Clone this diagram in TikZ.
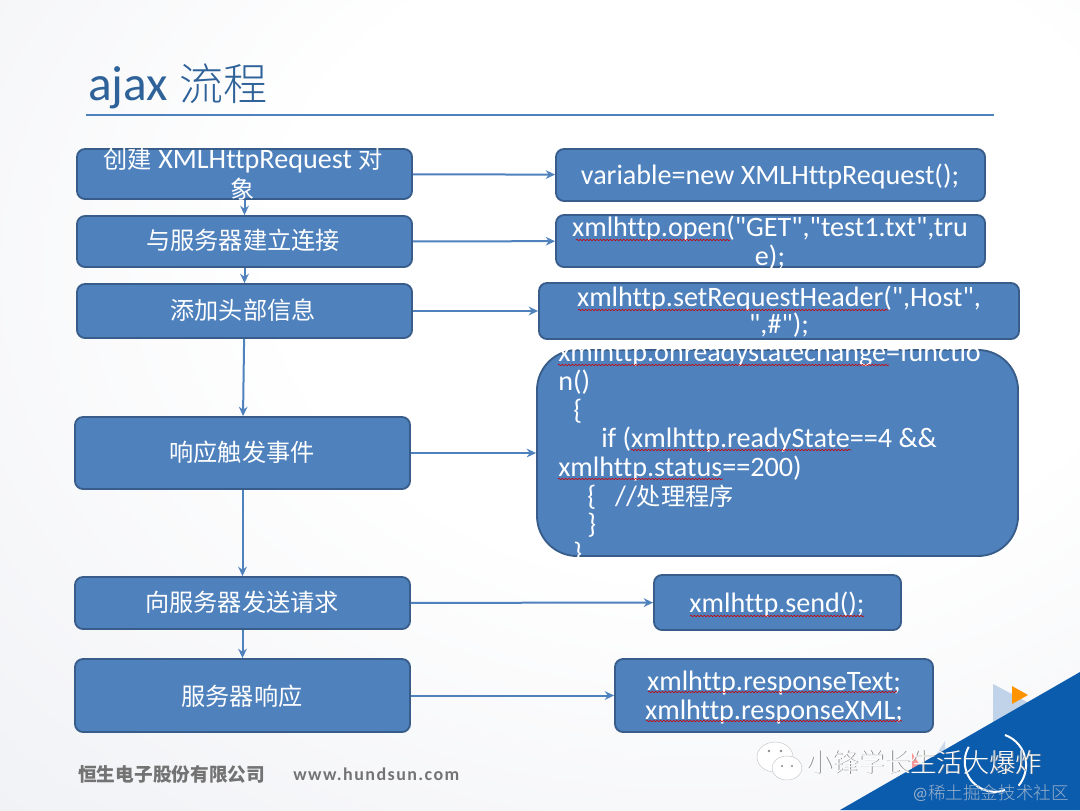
\documentclass[tikz,border=0pt]{standalone}
\usepackage{fontspec}
\setmainfont{Carlito}[Ligatures={TeXOff,NoCommon,NoContextual}]
\newfontfamily\cjk{Noto Sans CJK SC}[Scale=0.86]
\newfontfamily\cjkl{Noto Sans CJK SC Light}
\usetikzlibrary{arrows.meta,decorations.pathmorphing}
\definecolor{boxfill}{HTML}{4F81BD}
\definecolor{boxline}{HTML}{385D8A}
\definecolor{titleblue}{HTML}{2F6299}
\definecolor{cornerblue}{HTML}{0B5CAD}
\definecolor{bgA}{HTML}{F3F4F7}
\definecolor{bgB}{HTML}{E7EAF0}
\pgfdeclareradialshading{slidebg}{\pgfpoint{10bp}{12bp}}{color(0bp)=(white); color(20bp)=(white); color(40bp)=(bgA); color(62bp)=(bgB); color(100bp)=(bgB)}
\newcommand\bx[6][]{\node[boxnode,#1,minimum width={(#5-#3)*0.75pt},minimum height={(#6-#4)*0.75pt}] (#2) at ({(#3+#5)/2},{(#4+#6)/2}) {};}
\newcommand\tl[4]{\node[txtline] (#1) at (#2,#3) {#4};}
\newcommand\tll[4]{\node[txtline,anchor=base west] (#1) at (#2,#3) {#4};}
\newcommand\sq[3]{\draw[squig] (#1,#3) -- (#2,#3);}
\tikzset{
 boxnode/.style={draw=boxline,line width=1.4pt,fill=boxfill,rounded corners=6pt,inner sep=0pt},
 txtline/.style={text=white,anchor=base,inner sep=0pt,font=\fontsize{21.1}{24}\selectfont},
 conn/.style={draw=boxfill,line width=1.5pt,-{Stealth[length=7pt,width=6.5pt]}},
 squig/.style={draw=red!80!black,line width=0.45pt,decorate,decoration={snake,amplitude=0.5pt,segment length=2.5pt}}
}
\begin{document}
\begin{tikzpicture}[x=0.75pt,y=-0.75pt]
\useasboundingbox (0,0) rectangle (1080,810);
\shade[shading=slidebg] (0,0) rectangle (1080,810);
% decorations
\fill[boxfill!35!white] (993,684) -- (1031,704) -- (993,722) -- cycle;
\fill[orange!85!yellow] (1012,686) -- (1028,695) -- (1012,704) -- cycle;
\fill[boxfill!30!white] (945,741) -- (945,772) -- (925,772) -- cycle;
\fill[red!40!white] (912,753) -- (922,768) -- (912,773) -- cycle;
\fill[cornerblue] (840,810) -- (1080,672) -- (1080,810) -- cycle;
\draw[white,line width=1.5pt] (1005,735) arc[start angle=-70,end angle=40,radius=32];
\draw[white,line width=1.5pt] (1005,790) arc[start angle=70,end angle=210,radius=30];
% title
\node[anchor=base west,inner sep=0pt,text=titleblue,font=\fontsize{37}{40}\selectfont] (title) at (88,100) {ajax {\fontsize{33}{40}\selectfont\cjkl 流程}};
\coordinate (ruleL) at (86,115);
\coordinate (ruleR) at (994,115);
\draw[boxfill,line width=1pt] (ruleL) -- (ruleR);
% boxes
\bx{a1}{77}{149}{412}{199}
\bx{a2}{77}{216}{412}{267}
\bx{a3}{77}{284}{412}{338}
\bx{a4}{75}{417}{410}{489}
\bx{a5}{75}{577}{410}{629}
\bx{a6}{75}{659}{410}{732}
\bx{b1}{556}{149}{985}{201}
\bx{b2}{556}{215}{985}{267}
\bx{b3}{539}{283}{1019}{339}
\bx[rounded corners=30pt]{b4}{537}{350}{1018}{556}
\bx{b5}{654}{575}{901}{630}
\bx{b6}{615}{659}{933}{732}
% connectors
\draw[conn] (a1)--(a2);
\draw[conn] (a2)--(a3);
\draw[conn] (a3)--(a4);
\draw[conn] (a4)--(a5);
\draw[conn] (a5)--(a6);
\draw[conn] (a1)--(b1);
\draw[conn] (a2)--(b2);
\draw[conn] (a3)--(b3);
\draw[conn] (a4)--(b4);
\draw[conn] (a5)--(b5);
\draw[conn] (a6)--(b6);
% labels left
\tl{ta1}{243}{168}{{\cjk 创建} XMLHttpRequest {\cjk 对}}
\tl{ta1b}{243}{198}{{\cjk 象}}
\tl{ta2}{243}{249}{\cjk 与服务器建立连接}
\tl{ta3}{243}{319}{\cjk 添加头部信息}
\tl{ta4}{242}{461}{\cjk 响应触发事件}
\tl{ta5}{242}{611}{\cjk 向服务器发送请求}
\tl{ta6}{242}{705}{\cjk 服务器响应}
% labels right
\tl{tb1}{770}{184}{variable=new XMLHttpRequest();}
\tl{tb2}{770}{236}{xmlhttp.open("GET","test1.txt",tru}
\tl{tb2b}{770}{265}{e);}
\sq{576}{730}{240}
\tl{tb3}{779}{306}{xmlhttp.setRequestHeader(",Host",}
\tl{tb3b}{779}{333}{",\#");}
\sq{578}{888}{310}
\tll{tb4a}{558}{361}{xmlhttp.onreadystatechange=functio}
\sq{558}{889}{365}
\tll{tb4b}{558}{390}{n()}
\tll{tb4c}{573}{419}{\{}
\tll{tb4d}{601}{447}{if (xmlhttp.readyState==4 \&\&}
\sq{631}{851}{450}
\tll{tb4e}{558}{476}{xmlhttp.status==200)}
\sq{558}{723}{479}
\tll{tb4f}{587}{505}{\{\ \ \ //{\cjk 处理程序}}
\tll{tb4g}{587}{533}{\}}
\tll{tb4h}{573}{562}{\}}
\tl{tb5}{777}{612}{xmlhttp.send();}
\sq{690}{864}{616}
\tl{tb6}{774}{690}{xmlhttp.responseText;}
\sq{648}{897}{692}
\tl{tb6b}{774}{719}{xmlhttp.responseXML;}
\sq{646}{902}{721}
% footer
\node[anchor=base west,inner sep=0pt,text=black!55,font=\fontsize{16.3}{18}\bfseries\selectfont] (foot1) at (78,781) {\cjk 恒生电子股份有限公司};
\node[anchor=base west,inner sep=0pt,text=black!55,font=\fontsize{13.5}{16}\bfseries\selectfont,execute at begin node={\addfontfeatures{LetterSpace=8}}] (foot2) at (293,780) {www.hundsun.com};
% watermark
\fill[white,draw=black!25,line width=.3pt] (775,757) ellipse (18 and 15);
\fill[white,draw=black!25,line width=.3pt] (787,768) ellipse (15 and 12);
\foreach \p in {769,781}{\fill[black!45] (\p,751) circle (1.4);}
\foreach \p in {782,792}{\fill[black!45] (\p,766) circle (1.2);}
\node[anchor=base west,inner sep=0pt,text=black!45,font=\fontsize{19.6}{24}\selectfont] (mark0) at (806.8,772.8) {\cjkl 小锋学长生活大爆炸};
\node[anchor=base west,inner sep=0pt,text=white,font=\fontsize{19.6}{24}\selectfont] (mark1) at (806,772) {\cjkl 小锋学长生活大爆炸};
\node[anchor=base west,inner sep=0pt,text=black!15!boxfill!55!white,font=\fontsize{13.2}{16}\selectfont] (mark2) at (912,799) {@{\cjkl 稀土掘金技术社区}};
\end{tikzpicture}
\end{document}
